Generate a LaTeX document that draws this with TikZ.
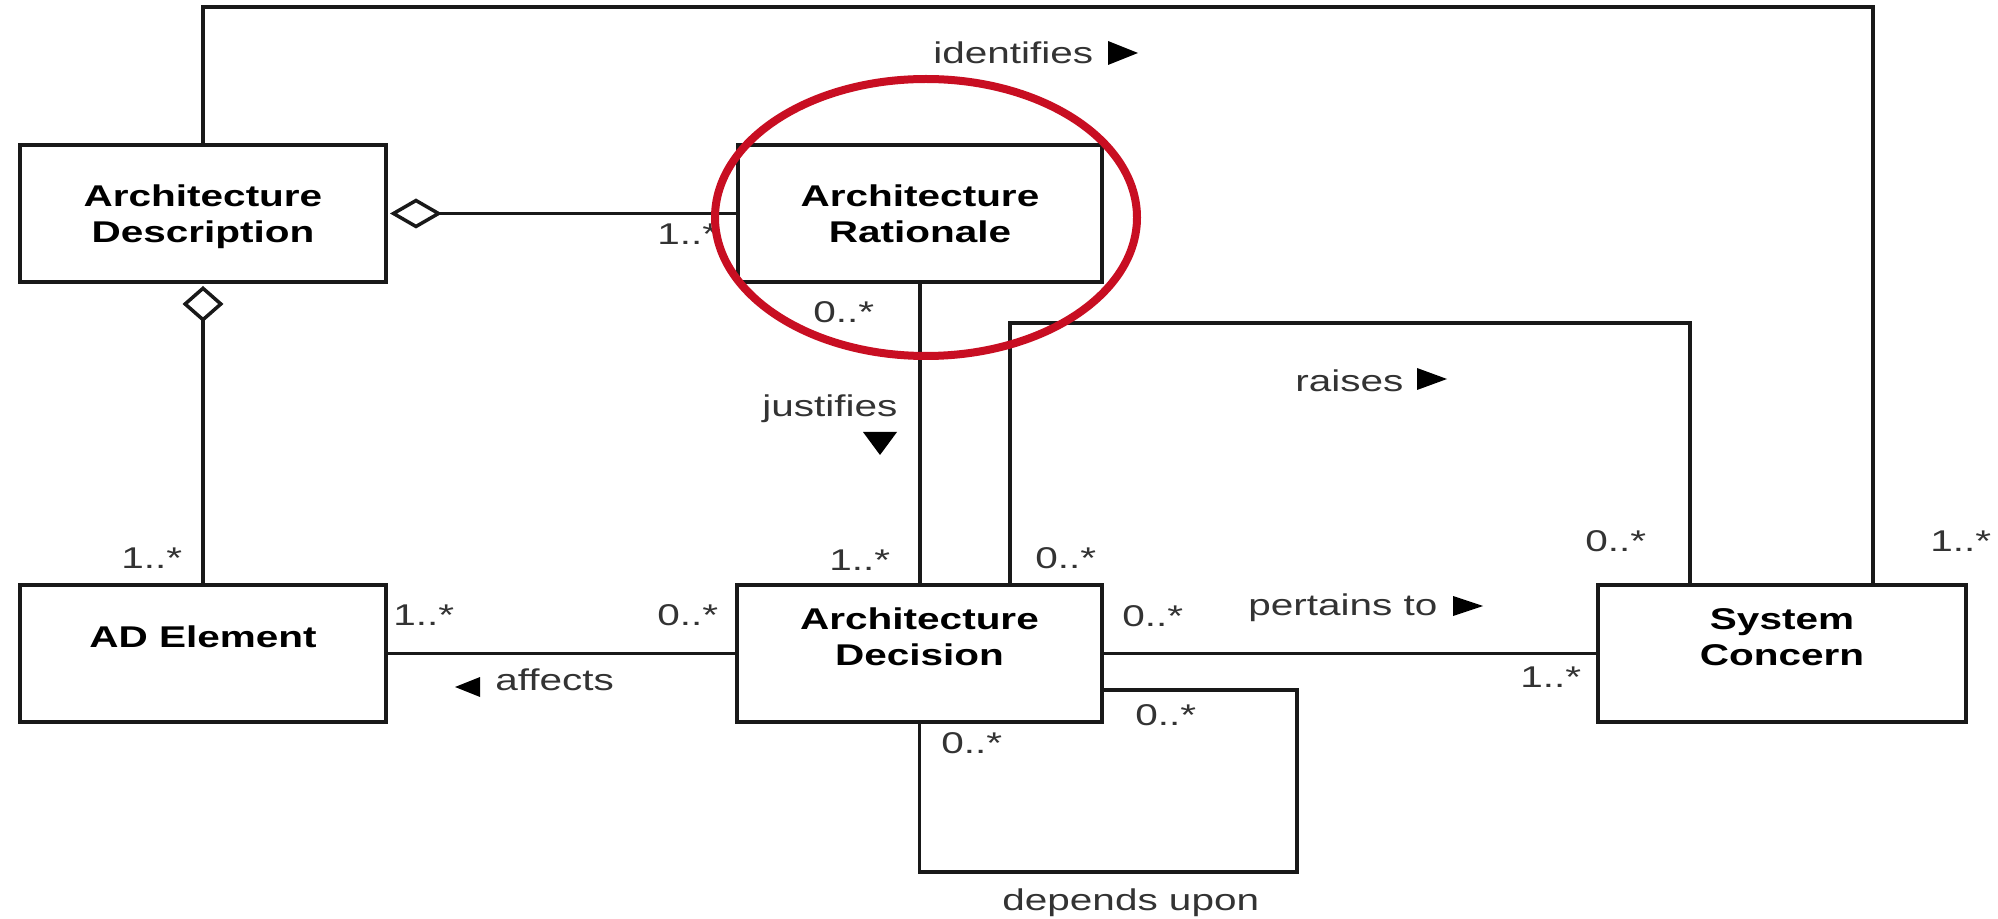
\documentclass[tikz,border=0pt]{standalone}
\usepackage{fontspec}
\setmainfont{Liberation Sans}[FakeStretch=1.35]
\usetikzlibrary{arrows.meta}
\definecolor{ink}{gray}{0.1}
\definecolor{labelink}{gray}{0.2}
\definecolor{ringred}{RGB}{200,14,34}

\begin{document}
\begin{tikzpicture}[x=0.5pt,y=-0.5pt,
  classbox/.style={draw=ink, line width=2pt, fill=white, minimum height=68.5pt, inner sep=0pt},
  title/.style={font=\fontsize{15}{18}\selectfont\bfseries, align=center, inner sep=0pt, anchor=base, text=black},
  mult/.style={font=\fontsize{15}{18}\selectfont, inner sep=0pt, anchor=base west, text=labelink},
  assoc/.style={draw=ink, line width=1.75pt},
  dirmark/.style={fill=black}]

% canvas
\fill[white] (0,0) rectangle (1998,919);
\useasboundingbox (0,0) rectangle (1998,919);

% classes
\node[classbox, minimum width=183pt]   (ad)   at (203,213.5)   {};
\node[classbox, minimum width=182pt]   (ar)   at (920,213.5)   {};
\node[classbox, minimum width=183pt]   (ade)  at (203,653.5)   {};
\node[classbox, minimum width=182.5pt] (adec) at (919.5,653.5) {};
\node[classbox, minimum width=184pt]   (sc)   at (1782,653.5)  {};

\node[title] (adT)   at (203,243)   {Architecture\\Description};
\node[title] (arT)   at (920,243)   {Architecture\\Rationale};
\node[title] (adeT)  at (203,647)   {AD Element};
\node[title] (adecT) at (919.5,665) {Architecture\\Decision};
\node[title] (scT)   at (1782,665)  {System\\Concern};

% bend points of the routed associations
\coordinate (idTop)  at (1873,7);
\coordinate (raiseL) at (1010,323);
\coordinate (raiseR) at (1690,323);
\coordinate (loopBL) at (920,872);
\coordinate (loopTR) at (1297,690);

% identifies
\draw[assoc] (ad.north) |- (idTop) -- (idTop |- sc.north);
% raises
\draw[assoc] (raiseL |- adec.north) -- (raiseL) -- (raiseR) -- (raiseR |- sc.north);
% justifies
\draw[assoc] (ar.south) -- (ar.south |- adec.north);
% affects
\draw[assoc] (ade.east) -- (adec.west);
% pertains to
\draw[assoc] (adec.east) -- (sc.west);
% depends upon (self association)
\draw[assoc] (adec.south) -- (adec.south |- loopBL) -| (loopTR) -- (adec.east |- loopTR);
% aggregations
\draw[assoc, {Diamond[open, length=26pt, width=15pt]}-, shorten <=1pt] (ad.east) -- (ar.west);
\draw[assoc, {Diamond[open, length=18pt, width=20.5pt]}-, shorten <=1pt] (ad.south) -- (ade.north);

% multiplicities
\node[mult] (m1)  at (657,245)  {1..*};
\node[mult] (m2)  at (813,323)  {0..*};
\node[mult] (m3)  at (121,568)  {1..*};
\node[mult] (m4)  at (829,570)  {1..*};
\node[mult] (m5)  at (1035,568) {0..*};
\node[mult] (m6)  at (1585,552) {0..*};
\node[mult] (m7)  at (1930,552) {1..*};
\node[mult] (m8)  at (393,625)  {1..*};
\node[mult] (m9)  at (657,625)  {0..*};
\node[mult] (m10) at (1122,626) {0..*};
\node[mult] (m11) at (1520,687) {1..*};
\node[mult] (m12) at (941,753)  {0..*};
\node[mult] (m13) at (1135,725) {0..*};

% association names
\node[mult] (lId) at (933,64)   {identifies};
\node[mult] (lJu) at (762,417)  {justifies};
\node[mult] (lRa) at (1295,392) {raises};
\node[mult] (lPe) at (1248,615) {pertains to};
\node[mult] (lAf) at (495,690)  {affects};
\node[mult] (lDe) at (1002,910) {depends upon};

% reading direction marks
\fill[dirmark] (1108,41) -- (1138,53) -- (1108,65) -- cycle;
\fill[dirmark] (1417,368) -- (1447,379) -- (1417,390) -- cycle;
\fill[dirmark] (1453,596) -- (1483,606) -- (1453,616) -- cycle;
\fill[dirmark] (480,677) -- (455,687) -- (480,697) -- cycle;
\fill[dirmark] (863,432) -- (897,432) -- (880,455) -- cycle;

% highlight ring
\draw[ringred, line width=4pt] (926,217.5) ellipse [x radius=211, y radius=138.5];
\end{tikzpicture}
\end{document}
